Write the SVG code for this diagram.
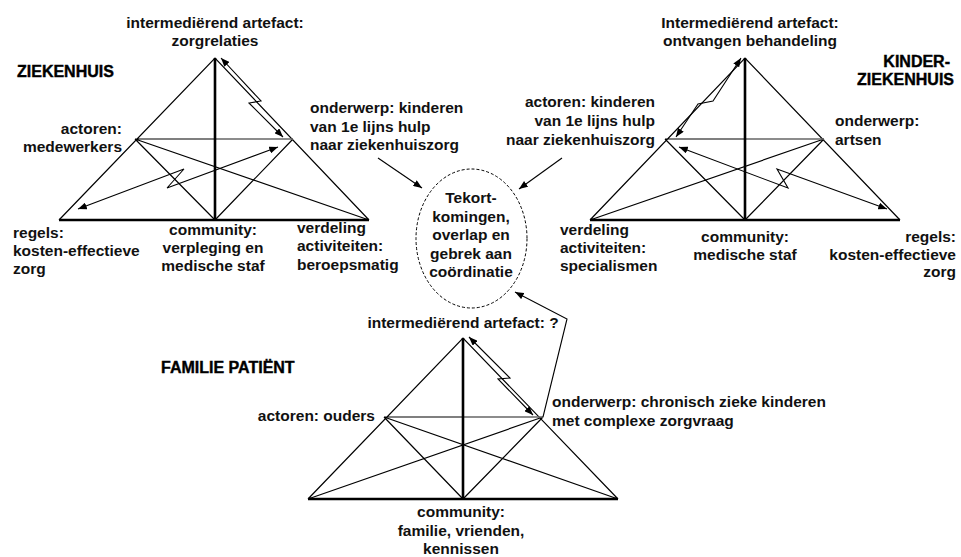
<svg xmlns="http://www.w3.org/2000/svg" width="961" height="557" viewBox="0 0 961 557">
<defs>
<marker id="arr" viewBox="0 0 10 8" refX="10" refY="4" markerWidth="9" markerHeight="7" markerUnits="userSpaceOnUse" orient="auto-start-reverse">
<path d="M0,0 L10,4 L0,8 z" fill="#000"/>
</marker>
<style>
.thin{stroke:#000;stroke-width:1.2;fill:none}
.grey{stroke:#666;stroke-width:1.4;fill:none}
.thick{stroke:#000;stroke-width:2.6;fill:none}
.conn{stroke:#000;stroke-width:1.1;fill:none;marker-end:url(#arr)}
.both{marker-start:url(#arr)}
.lbl{font-family:"Liberation Sans",Arial,sans-serif;font-size:15.5px;font-weight:bold;fill:#111}
.ttl{font-family:"Liberation Sans",Arial,sans-serif;font-size:16px;font-weight:bold;fill:#000;stroke:#000;stroke-width:0.4}
.mid{text-anchor:middle}
.end{text-anchor:end}
</style>
</defs>
<rect width="961" height="557" fill="#fff"/>

<g id="triangle-ziekenhuis">
<path class="thin" d="M59,220 L215,58 L369,220 M135,139 L215,220 M135,139 L369,220 M293,139 L215,220 M135,139 L215,139"/>
<path class="grey" d="M215,139 L293,139"/>
<path class="thick" d="M215,58 L215,220 M59,220 L369,220"/>
</g>
<g id="triangle-kinderziekenhuis">
<path class="thin" d="M590,220 L745,58 L900,220 M665,139 L745,220 M824,139 L745,220 M824,139 L590,220 M665,139 L745,139"/>
<path class="grey" d="M745,139 L824,139"/>
<path class="thick" d="M745,58 L745,220 M590,220 L900,220"/>
</g>
<g id="triangle-familie">
<path class="thin" d="M308,499 L463,338 L618,499 M384,417 L463,499 M543,417 L463,499 M384,417 L618,499 M543,417 L308,499 M384,417 L463,417"/>
<path class="grey" d="M463,417 L543,417"/>
<path class="thick" d="M463,338 L463,499 M308,499 L618,499"/>
</g>

<g id="connectors">
<path class="conn both" d="M221,58 L261,101 L249,103 L283,137"/>
<path class="conn both" d="M78,209 L184,169 L167,188 L278,147"/>
<path class="conn both" d="M741,58 L713,101 L698,104 L676,137"/>
<path class="conn both" d="M679,147 L788,188 L777,169 L887,209"/>
<path class="conn both" d="M469,337 L510,378 L498,379 L533,415"/>
<path class="conn" d="M378,158 L422,188"/>
<path class="conn" d="M562,158 L519,189"/>
<path class="conn" d="M543,417 L567,319 L515,292"/>
</g>

<g id="node-tekortkomingen">
<ellipse cx="471.5" cy="238.5" rx="55.5" ry="69.5" fill="none" stroke="#000" stroke-width="1" stroke-dasharray="3 2"/>
<text class="lbl mid" x="471" y="203">Tekort-</text>
<text class="lbl mid" x="471" y="221.5">komingen,</text>
<text class="lbl mid" x="471" y="240">overlap en</text>
<text class="lbl mid" x="471" y="258.5">gebrek aan</text>
<text class="lbl mid" x="471" y="277">coördinatie</text>
</g>

<g id="title-ziekenhuis"><text class="ttl" x="17" y="77">ZIEKENHUIS</text></g>
<g id="title-kinderziekenhuis">
<text class="ttl end" x="950" y="67">KINDER-</text>
<text class="ttl end" x="954" y="85">ZIEKENHUIS</text>
</g>
<g id="title-familie"><text class="ttl" x="161" y="373">FAMILIE PATIËNT</text></g>

<g id="zk-artefact">
<text class="lbl mid" x="215" y="28">intermediërend artefact:</text>
<text class="lbl mid" x="215" y="46">zorgrelaties</text>
</g>
<g id="zk-actoren">
<text class="lbl end" x="122" y="134">actoren:</text>
<text class="lbl end" x="122" y="152">medewerkers</text>
</g>
<g id="zk-onderwerp">
<text class="lbl" x="310" y="113">onderwerp: kinderen</text>
<text class="lbl" x="310" y="131.5">van 1e lijns hulp</text>
<text class="lbl" x="310" y="150">naar ziekenhuiszorg</text>
</g>
<g id="zk-regels">
<text class="lbl" x="13" y="238">regels:</text>
<text class="lbl" x="13" y="256">kosten-effectieve</text>
<text class="lbl" x="13" y="274">zorg</text>
</g>
<g id="zk-community">
<text class="lbl mid" x="213" y="235">community:</text>
<text class="lbl mid" x="213" y="253">verpleging en</text>
<text class="lbl mid" x="213" y="271">medische staf</text>
</g>
<g id="zk-verdeling">
<text class="lbl" x="297" y="233">verdeling</text>
<text class="lbl" x="297" y="251">activiteiten:</text>
<text class="lbl" x="297" y="270">beroepsmatig</text>
</g>

<g id="kz-artefact">
<text class="lbl mid" x="750" y="28">Intermediërend artefact:</text>
<text class="lbl mid" x="750" y="46">ontvangen behandeling</text>
</g>
<g id="kz-actoren">
<text class="lbl end" x="655" y="107">actoren: kinderen</text>
<text class="lbl end" x="655" y="126">van 1e lijns hulp</text>
<text class="lbl end" x="655" y="145">naar ziekenhuiszorg</text>
</g>
<g id="kz-onderwerp">
<text class="lbl" x="835" y="126">onderwerp:</text>
<text class="lbl" x="835" y="145">artsen</text>
</g>
<g id="kz-verdeling">
<text class="lbl" x="560" y="235">verdeling</text>
<text class="lbl" x="560" y="253">activiteiten:</text>
<text class="lbl" x="560" y="271">specialismen</text>
</g>
<g id="kz-community">
<text class="lbl mid" x="745" y="242">community:</text>
<text class="lbl mid" x="745" y="260">medische staf</text>
</g>
<g id="kz-regels">
<text class="lbl end" x="956" y="242">regels:</text>
<text class="lbl end" x="956" y="260">kosten-effectieve</text>
<text class="lbl end" x="956" y="277">zorg</text>
</g>

<g id="fp-artefact"><text class="lbl mid" x="463" y="328">intermediërend artefact: ?</text></g>
<g id="fp-actoren"><text class="lbl end" x="375" y="421">actoren: ouders</text></g>
<g id="fp-onderwerp">
<text class="lbl" x="552" y="407">onderwerp: chronisch zieke kinderen</text>
<text class="lbl" x="552" y="426">met complexe zorgvraag</text>
</g>
<g id="fp-community">
<text class="lbl mid" x="461" y="517">community:</text>
<text class="lbl mid" x="461" y="535.5">familie, vrienden,</text>
<text class="lbl mid" x="461" y="554">kennissen</text>
</g>
</svg>
